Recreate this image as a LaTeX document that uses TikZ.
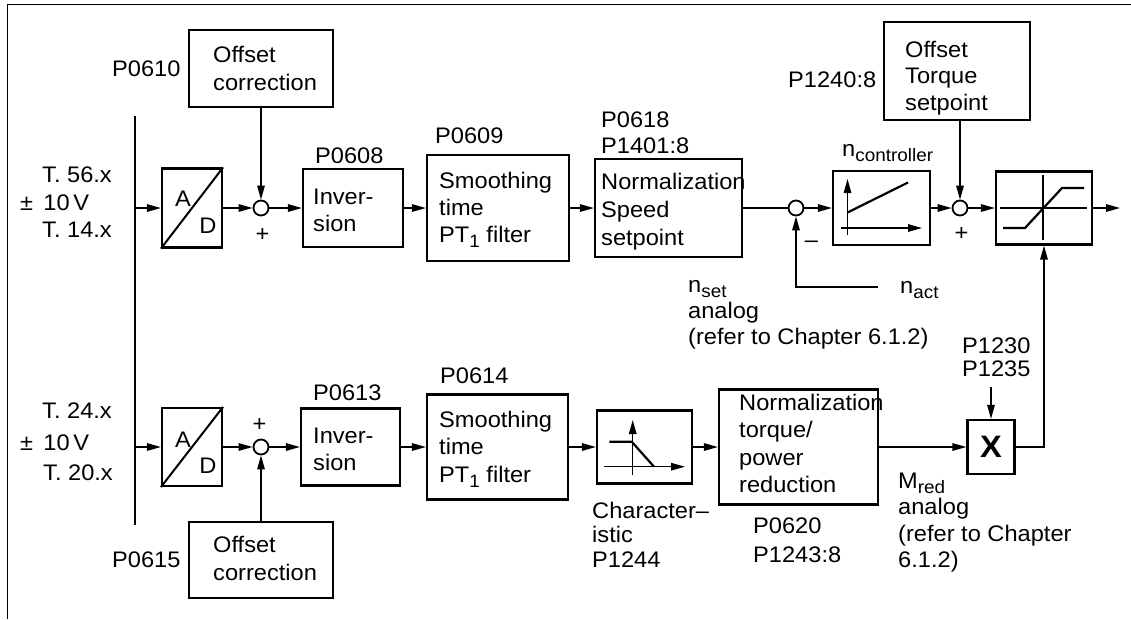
\documentclass[tikz,border=0pt]{standalone}
\usepackage{fontspec}
\setmainfont[FakeStretch=1.05]{Liberation Sans}
\usetikzlibrary{arrows.meta}
\newcommand\mltext[2]{\fontsize{22.5}{#1}\selectfont\begin{tabular}[t]{@{}l@{}}#2\end{tabular}}
\newcommand\subtx[1]{\raisebox{-5pt}{\fontsize{18}{18}\selectfont #1}}
\tikzset{
  blk/.style={draw, line width=2.2pt, inner sep=0pt},
  sumc/.style={draw, circle, line width=1.8pt, minimum size=15pt, inner sep=0pt},
  conn/.style={line width=1.4pt},
  arr/.style={conn, -{Triangle[length=14pt,width=7.5pt]}},
  txt/.style={inner sep=0pt, anchor=base west},
  txtr/.style={inner sep=0pt, anchor=base east},
  sym/.style={inner sep=0pt, anchor=center},
  graphline/.style={line width=2.2pt},
  axis/.style={line width=1.4pt, -{Triangle[length=14pt,width=7.5pt]}}
}
\begin{document}
\begin{tikzpicture}[x=1pt, y=-1pt, font=\fontsize{22.5}{27}\selectfont]
\useasboundingbox (0,0) rectangle (1131,619);
% frame
\draw[line width=1.5pt] (1131,4.5) -- (7.5,4.5) -- (7.5,619);

% bus
\coordinate (bt) at (135,116);
\coordinate (bb) at (135,525);
\draw[line width=2.4pt] (bt) -- (bb);

% ---------------- upper row ----------------
\node[blk, minimum width=144pt, minimum height=77pt] (off1) at (261,68.5) {};
\node[blk, minimum width=60pt, minimum height=79pt] (ad1) at (192,208) {};
\node[sumc] (s1) at (261,208) {};
\node[blk, minimum width=100pt, minimum height=78pt] (inv1) at (353,208) {};
\node[blk, minimum width=142pt, minimum height=106pt] (sm1) at (498,208) {};
\node[blk, minimum width=147pt, minimum height=98pt] (nrm1) at (668.5,208) {};
\node[sumc] (s2) at (796,208) {};
\node[blk, minimum width=97pt, minimum height=74pt] (nc) at (881.5,208) {};
\node[sumc] (s3) at (960,208) {};
\node[blk, minimum width=146pt, minimum height=98pt] (ofs) at (957,71) {};
\node[blk, minimum width=96pt, minimum height=73pt] (lim) at (1044,208) {};
\coordinate (out) at (1120,208);
\coordinate (nact) at (878,287);

\draw[line width=2pt] (ad1.south west) -- (ad1.north east);

\draw[arr] (ad1.west -| bt) -- (ad1.west);
\draw[arr] (ad1.east) -- (s1.west);
\draw[arr] (off1.south) -- (s1.north);
\draw[arr] (s1.east) -- (inv1.west);
\draw[arr] (inv1.east) -- (sm1.west);
\draw[arr] (sm1.east) -- (nrm1.west);
\draw[conn] (nrm1.east) -- (s2.west);
\draw[arr] (s2.east) -- (nc.west);
\draw[arr] (nact) -| (s2.south);
\draw[arr] (nc.east) -- (s3.west);
\draw[arr] (s3 |- ofs.south) -- (s3.north);
\draw[arr] (s3.east) -- (lim.west);
\draw[arr] (lim.east) -- (out);

% controller graph
\draw[axis] (847.5,235) -- (847.5,179);
\draw[axis] (841,228) -- (922,228);
\draw[graphline] (847.5,212.5) -- (908,182.5);
% limiter graph
\draw[graphline] (1043,175) -- (1043,240);
\draw[graphline] (1000,207.7) -- (1087,207.7);
\draw[graphline] (1003,228) -- (1025,228) -- (1062,188) -- (1084,188);

% upper texts
\node[txt] (tP0610) at (112,76) {P0610};
\node[txt] (tOff1) at (213,62) {\mltext{28}{Offset\\correction}};
\node[txtr] (tT56) at (112,182) {T. 56.x};
\node[txt] (tV1) at (20,210) {±\, 10\,V};
\node[txtr] (tT14) at (112,237) {T. 14.x};
\node[sym] (A1) at (183,199) {A};
\node[sym] (D1) at (208,226) {D};
\node[sym] (plus1) at (262.5,235) {+};
\node[txt] (tP0608) at (315,163) {P0608};
\node[txt] (tInv1) at (313,204) {\mltext{27}{Inver-\\sion}};
\node[txt] (tP0609) at (435,143) {P0609};
\node[txt] (tSm1) at (439,188) {\mltext{27}{Smoothing\\time\\PT\subtx{1} filter}};
\node[txt] (tP0618) at (601,127) {\mltext{26}{P0618\\P1401:8}};
\node[txt] (tNrm1) at (601,189) {\mltext{28}{Normalization\\Speed\\setpoint}};
\node[txt] (tnset) at (688,292) {\mltext{26}{n\subtx{set}\\analog\\(refer to Chapter 6.1.2)}};
\node[txt] (tnc) at (842,156) {n\subtx{controller}};
\node[sym] (minus) at (811.5,244) {–};
\node[txt] (tnact) at (900,293) {n\subtx{act}};
\node[sym] (plus3) at (961.5,234) {+};
\node[txt] (tP1240) at (788,87) {P1240:8};
\node[txt] (tOff2) at (905,57) {\mltext{26.5}{Offset\\Torque\\setpoint}};

% ---------------- lower row ----------------
\node[blk, minimum width=60pt, minimum height=78pt] (ad2) at (192,447) {};
\node[sumc] (s4) at (261,447) {};
\node[blk, minimum width=144pt, minimum height=76pt] (off3) at (261,560) {};
\node[blk, minimum width=99pt, minimum height=77pt] (inv2) at (350.5,447) {};
\node[blk, minimum width=141pt, minimum height=105pt] (sm2) at (497.5,447) {};
\node[blk, minimum width=95pt, minimum height=73pt] (ch) at (644.5,447) {};
\node[blk, minimum width=159pt, minimum height=115pt] (nrm2) at (798.5,447) {};
\node[blk, minimum width=47pt, minimum height=54pt, font=\fontsize{31}{31}\selectfont\bfseries] (xb) at (991,447) {X};
\coordinate (pin) at (991,387);

\draw[line width=2pt] (ad2.south west) -- (ad2.north east);

\draw[arr] (ad2.west -| bt) -- (ad2.west);
\draw[arr] (ad2.east) -- (s4.west);
\draw[arr] (off3.north) -- (s4.south);
\draw[arr] (s4.east) -- (inv2.west);
\draw[arr] (inv2.east) -- (sm2.west);
\draw[arr] (sm2.east) -- (ch.west);
\draw[arr] (ch.east) -- (nrm2.west);
\draw[arr] (nrm2.east) -- (xb.west);
\draw[arr] (pin) -- (xb.north);
\draw[arr] (xb.east) -| (lim.south);

% characteristic graph
\draw[axis] (632.7,475) -- (632.7,420);
\draw[axis] (604,466.7) -- (685,466.7);
\draw[graphline] (609.3,441.7) -- (631.7,441.7) -- (654,466.7);

% lower texts
\node[txtr] (tT24) at (112,418) {T. 24.x};
\node[txt] (tV2) at (20,450) {±\, 10\,V};
\node[txtr] (tT20) at (113,480) {T. 20.x};
\node[sym] (A2) at (183,439.5) {A};
\node[sym] (D2) at (208,465.5) {D};
\node[sym] (plus4) at (259.5,425) {+};
\node[txt] (tP0615) at (112,567) {P0615};
\node[txt] (tOff3) at (213,552) {\mltext{28}{Offset\\correction}};
\node[txt] (tP0613) at (313,400) {P0613};
\node[txt] (tInv2) at (313,443) {\mltext{27}{Inver-\\sion}};
\node[txt] (tP0614) at (440,383) {P0614};
\node[txt] (tSm2) at (439,427) {\mltext{27.5}{Smoothing\\time\\PT\subtx{1} filter}};
\node[txt] (tChar) at (592,518) {\mltext{24.5}{Character–\\istic\\P1244}};
\node[txt] (tNrm2) at (739,410) {\mltext{27.5}{Normalization\\torque/\\power\\reduction}};
\node[txt] (tP0620) at (753,533) {\mltext{29}{P0620\\P1243:8}};
\node[txt] (tP1230) at (962,353) {\mltext{23}{P1230\\P1235}};
\node[txt] (tMred) at (898,488) {\mltext{26.5}{M\subtx{red}\\analog\\(refer to Chapter\\6.1.2)}};
\end{tikzpicture}
\end{document}
